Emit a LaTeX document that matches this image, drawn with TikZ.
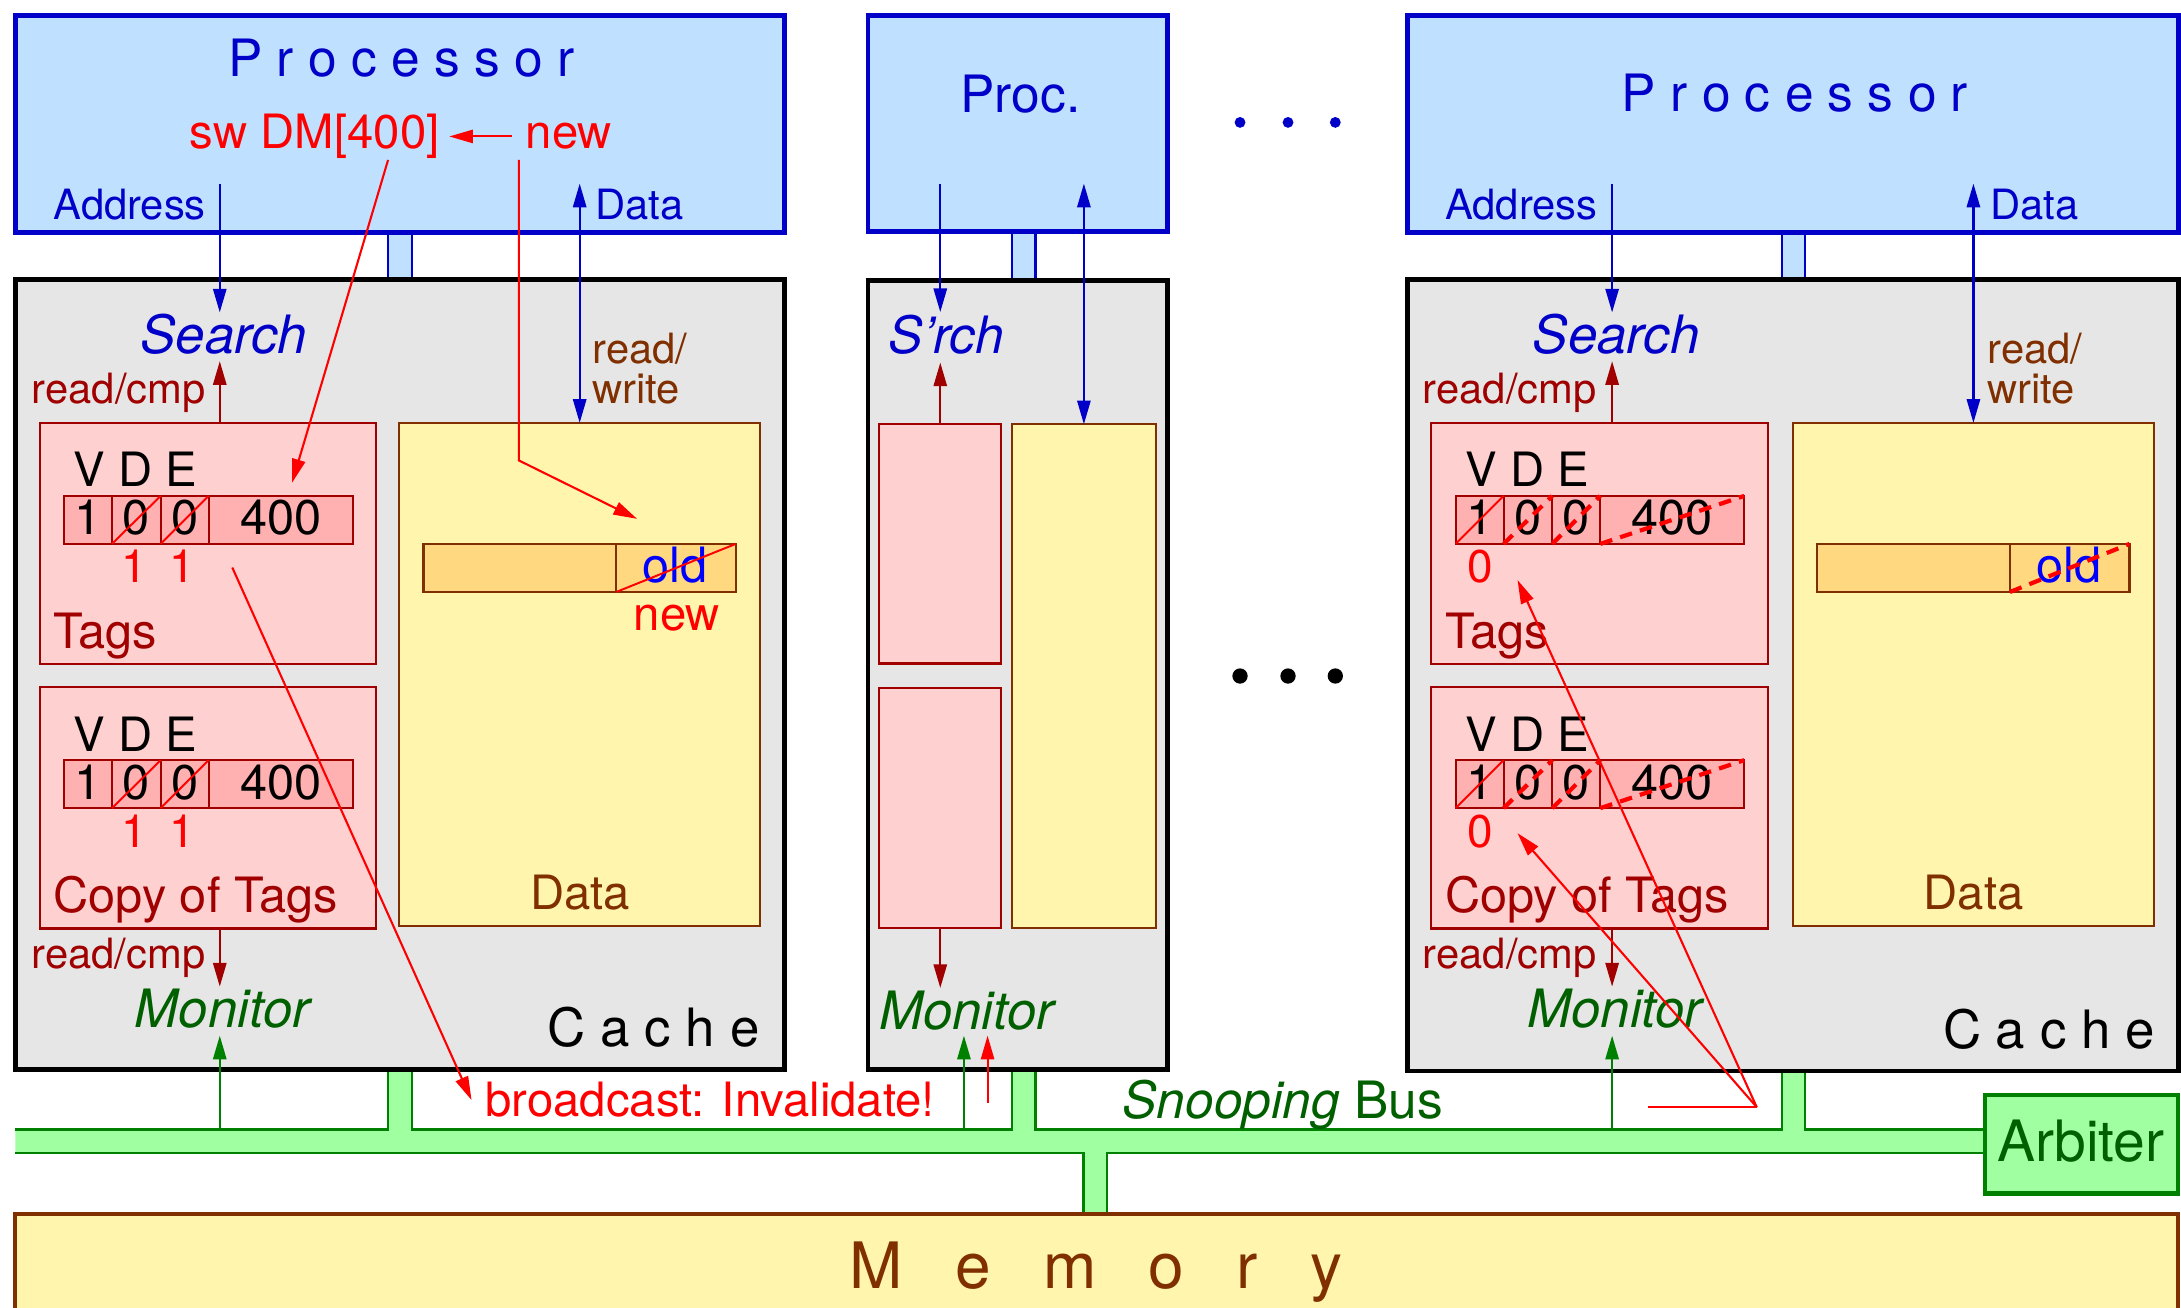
\documentclass[tikz,border=0pt]{standalone}
\usepackage{fontspec}
\setmainfont{TeX Gyre Heros}
\usetikzlibrary{arrows.meta,calc,fit}
\definecolor{procfill}{HTML}{C0E0FF}
\definecolor{procblue}{HTML}{0000C8}
\definecolor{oldblue}{HTML}{0000FF}
\definecolor{cachefill}{HTML}{E6E6E6}
\definecolor{pinkfill}{HTML}{FFD0D0}
\definecolor{rowfill}{HTML}{FFB0B0}
\definecolor{darkred}{HTML}{A00000}
\definecolor{yellowfill}{HTML}{FFF5AD}
\definecolor{linefill}{HTML}{FFD880}
\definecolor{brownc}{HTML}{803000}
\definecolor{busfill}{HTML}{A0FFA0}
\definecolor{busline}{HTML}{008000}
\definecolor{darkgreen}{HTML}{006000}
\definecolor{myred}{HTML}{FF0000}
\newcommand\fs[1]{\fontsize{#1}{#1}\selectfont}
\newcommand\tagbox[4]{%
  \node[tagsbox, fit={(#2,#3) (#2+242,#3+173.5)}] (#1) {};
  \node[font={\fs{34}}, anchor=base west] (#1-vde) at (#2+24.5,#3+46) {V D E};
  \node[cellbox, fit={(#2+17.5,#3+52.5) (#2+52,#3+87)}] (#1-c1) {};
  \node[cellbox, fit={(#2+52,#3+52.5) (#2+87,#3+87)}] (#1-c2) {};
  \node[cellbox, fit={(#2+87,#3+52.5) (#2+121.5,#3+87)}] (#1-c3) {};
  \node[cellbox, fit={(#2+121.5,#3+52.5) (#2+225,#3+87)}] (#1-c4) {};
  \node[celltext] (#1-v1) at (#2+34.75,#3+80.6) {1};
  \node[celltext] (#1-v2) at (#2+69.5,#3+80.6) {0};
  \node[celltext] (#1-v3) at (#2+104.25,#3+80.6) {0};
  \node[celltext] (#1-v4) at (#2+173.25,#3+80.6) {400};
  \node[font={\fs{35}}, text=darkred, anchor=base west] (#1-lbl) at (#2+10,#3+162) {#4};
}
\newcommand\databox[3]{%
  \node[databoxst, fit={(#2,#3) (#2+259.5,#3+362)}] (#1) {};
  \node[linebox, fit={(#2+17.5,#3+87) (#2+156,#3+121.6)}] (#1-l) {};
  \node[linebox, fit={(#2+156,#3+87) (#2+242,#3+121.6)}] (#1-r) {};
  \node[font={\fs{35}}, text=oldblue, anchor=base] (#1-old) at (#2+198.5,#3+115) {old};
  \node[font={\fs{34}}, text=brownc, anchor=base] (#1-lbl) at (#2+130,#3+350) {Data};
}
\begin{document}
\begin{tikzpicture}[x=1pt,y=-1pt,
  every node/.style={inner sep=0pt,outer sep=0pt},
  procbox/.style={draw=procblue,fill=procfill,line width=3.4pt},
  cachebox/.style={draw=black,fill=cachefill,line width=3.5pt},
  tagsbox/.style={draw=darkred,fill=pinkfill,line width=1.6pt},
  cellbox/.style={draw=darkred,fill=rowfill,line width=1.4pt},
  databoxst/.style={draw=brownc,fill=yellowfill,line width=1.6pt},
  linebox/.style={draw=brownc,fill=linefill,line width=1.6pt},
  celltext/.style={font={\fs{35}},anchor=base},
  tip/.style={-{Triangle[length=17pt,width=9.5pt]}},
  bluearr/.style={draw=procblue,line width=1.6pt,tip},
  bluedbl/.style={draw=procblue,line width=1.6pt,{Triangle[length=17pt,width=9.5pt]}-{Triangle[length=17pt,width=9.5pt]}},
  drkarr/.style={draw=darkred,line width=1.6pt,tip},
  greenarr/.style={draw=busline,line width=1.6pt,tip},
  redarr/.style={draw=myred,line width=1.5pt,tip},
  strike/.style={draw=myred,line width=1.4pt},
  dstrike/.style={draw=myred,line width=3pt,dash pattern=on 9pt off 6pt},
  lbl/.style={anchor=base west},
]
\useasboundingbox (0,0) rectangle (1568,940);
\clip (0,0) rectangle (1568,940);
\fill[white] (0,0) rectangle (1568,940);

% ---------- bus fill (under boxes) ----------
\path[fill=busfill] (11,812) rectangle (1427,829)
  (279,765) rectangle (296,812)
  (727.5,765) rectangle (744.5,812)
  (1281,765) rectangle (1297.5,812)
  (779,829) rectangle (796,875);
\draw[busline,line width=1.6pt] (11,812) -- (279,812) -- (279,769)
  (296,769) -- (296,812) -- (727.5,812) -- (727.5,769)
  (744.5,769) -- (744.5,812) -- (1281,812) -- (1281,770)
  (1297.5,770) -- (1297.5,812) -- (1427,812);
\draw[busline,line width=1.6pt] (11,829) -- (779,829) -- (779,873)
  (796,873) -- (796,829) -- (1427,829);

% ---------- processor-cache links ----------
\node[fill=procfill, fit={(279,165) (296,203)}] (l1) {};
\node[fill=procfill, fit={(727.5,165) (744.5,203)}] (l2) {};
\node[fill=procfill, fit={(1281,165) (1297.5,203)}] (l3) {};
\foreach \l in {l1,l2,l3}{
  \draw[procblue,line width=1.6pt] (\l.north west) -- (\l.south west) (\l.north east) -- (\l.south east);
}

% ---------- processors ----------
\node[procbox, fit={(11,11) (564,167)}] (p1) {};
\node[procbox, fit={(624,11) (839.5,166.5)}] (p2) {};
\node[procbox, fit={(1012,11) (1566,167)}] (p3) {};

\node[font={\fs{37}}, text=procblue, anchor=base] (p1t) at (288.5,55) {P r o c e s s o r};
\node[font={\fs{37}}, text=procblue, anchor=base west] (p2t) at (690.6,80.6) {Proc.};
\node[font={\fs{37}}, text=procblue, anchor=base] (p3t) at (1290.5,80) {P r o c e s s o r};

\node[font={\fs{34}}, text=myred, lbl] (dm) at (136.5,107) {sw DM[400]};
\node[font={\fs{34}}, text=myred, lbl] (nw) at (378,107) {new};
\draw[redarr] ($(nw.west)+(-10,0)$) -- ($(nw.west -| dm.east)+(7,0)$);

\node[font={\fs{30}}, text=procblue, lbl] (ad1) at (38.5,158) {Address};
\node[font={\fs{30}}, text=procblue, lbl] (da1) at (428,158) {Data};
\node[font={\fs{30}}, text=procblue, lbl] (ad3) at (1039,158) {Address};
\node[font={\fs{30}}, text=procblue, lbl] (da3) at (1431,158) {Data};

% ---------- caches ----------
\node[cachebox, fit={(11,201) (564,769)}] (c1) {};
\node[cachebox, fit={(624,201.5) (839.5,769)}] (c2) {};
\node[cachebox, fit={(1012,201) (1566,770)}] (c3) {};

% left cache
\tagbox{t1}{28.5}{304}{Tags}
\tagbox{t1b}{28.5}{494}{Copy of Tags}
\databox{d1}{287}{304}
\draw[strike] (t1-c2.south west) -- (t1-c2.north east);
\draw[strike] (t1-c3.south west) -- (t1-c3.north east);
\draw[strike] (t1b-c2.south west) -- (t1b-c2.north east);
\draw[strike] (t1b-c3.south west) -- (t1b-c3.north east);
\draw[strike] (d1-r.south west) -- (d1-r.north east);
\node[font={\fs{33}}, text=myred, anchor=base] (t1-n2) at (96.5,419) {1};
\node[font={\fs{33}}, text=myred, anchor=base] (t1-n3) at (131,419) {1};
\node[font={\fs{33}}, text=myred, anchor=base] (t1b-n2) at (96.5,609) {1};
\node[font={\fs{33}}, text=myred, anchor=base] (t1b-n3) at (131,609) {1};
\node[font={\fs{34}}, text=myred, lbl] (d1-new) at (455.6,453.6) {new};

\node[font={\fs{38}\itshape}, text=procblue, lbl] (s1) at (101,254) {Search};
\node[font={\fs{30}}, text=darkred, lbl] (rc1) at (23,290) {read/cmp};
\node[font={\fs{30}}, text=brownc, lbl] (rw1a) at (426,261) {read/};
\node[font={\fs{30}}, text=brownc, lbl] (rw1b) at (426,290) {write};
\node[font={\fs{30}}, text=darkred, lbl] (rc1b) at (22.7,696) {read/cmp};
\node[font={\fs{38}\itshape}, text=darkgreen, lbl] (m1) at (97,739) {Monitor};
\node[font={\fs{38}}, anchor=base east] (ca1) at (546,752.5) {C a c h e};

% middle cache
\node[tagsbox, fit={(632,305) (719.5,477)}] (t2) {};
\node[tagsbox, fit={(632,494.5) (719.5,667)}] (t2b) {};
\node[databoxst, fit={(727.5,305) (831,667)}] (d2) {};
\node[font={\fs{37}\itshape}, text=procblue, lbl] (s2) at (639,254) {S’rch};
\node[font={\fs{38}\itshape}, text=darkgreen, lbl] (m2) at (632,740) {Monitor};

% right cache
\tagbox{t3}{1029}{304}{Tags}
\tagbox{t3b}{1029}{494}{Copy of Tags}
\databox{d3}{1289}{304}
\foreach \t in {t3,t3b}{
  \draw[strike] (\t-c1.south west) -- (\t-c1.north east);
  \draw[dstrike] (\t-c2.south west) -- (\t-c2.north east);
  \draw[dstrike] (\t-c3.south west) -- (\t-c3.north east);
  \draw[dstrike] (\t-c4.south west) -- (\t-c4.north east);
}
\draw[dstrike] (d3-r.south west) -- (d3-r.north east);
\node[font={\fs{33}}, text=myred, anchor=base] (t3-n1) at (1064,419) {0};
\node[font={\fs{33}}, text=myred, anchor=base] (t3b-n1) at (1064,609) {0};

\node[font={\fs{38}\itshape}, text=procblue, lbl] (s3) at (1102,254) {Search};
\node[font={\fs{30}}, text=darkred, lbl] (rc3) at (1023,290) {read/cmp};
\node[font={\fs{30}}, text=brownc, lbl] (rw3a) at (1429,261) {read/};
\node[font={\fs{30}}, text=brownc, lbl] (rw3b) at (1429,290) {write};
\node[font={\fs{30}}, text=darkred, lbl] (rc3b) at (1023,696) {read/cmp};
\node[font={\fs{38}\itshape}, text=darkgreen, lbl] (m3) at (1098,739) {Monitor};
\node[font={\fs{38}}, anchor=base east] (ca3) at (1549,753.5) {C a c h e};

% ---------- arrows: processor/cache ----------
\coordinate (a1top) at (158,132);
\coordinate (a2top) at (676,132);
\coordinate (a3top) at (1159,132);
\coordinate (bus1) at (158,812);
\coordinate (bus2) at (693,812);
\coordinate (bus3) at (1159,812);
\coordinate (bc2) at (710,793);

\draw[bluearr] (a1top) -- ($(a1top |- s1.north)+(0,-1)$);
\draw[bluedbl] (d1.north |- a1top) -- (d1.north);
\draw[drkarr] (a1top |- t1.north) -- ($(a1top |- s1.south)+(0,5)$);
\draw[drkarr] (a1top |- t1b.south) -- ($(a1top |- m1.north)+(0,-2)$);
\draw[greenarr] (bus1) -- ($(bus1 |- m1.south)+(0,5)$);

\draw[bluearr] (a2top) -- ($(a2top |- s2.north)+(0,-2)$);
\draw[bluedbl] (d2.north |- a2top) -- (d2.north);
\draw[drkarr] (a2top |- t2.north) -- ($(a2top |- s2.south)+(0,6)$);
\draw[drkarr] (a2top |- t2b.south) -- ($(a2top |- m2.north)+(0,-2)$);
\draw[greenarr] (bus2) -- ($(bus2 |- m2.south)+(0,4)$);
\draw[redarr] (bc2) -- ($(bc2 |- m2.south)+(0,4)$);

\draw[bluearr] (a3top) -- ($(a3top |- s3.north)+(0,-1)$);
\draw[bluedbl] (d3.north |- a3top) -- (d3.north);
\draw[drkarr] (a3top |- t3.north) -- ($(a3top |- s3.south)+(0,5)$);
\draw[drkarr] (a3top |- t3b.south) -- ($(a3top |- m3.north)+(0,-2)$);
\draw[greenarr] (bus3) -- ($(bus3 |- m3.south)+(0,5)$);

% ---------- dots ----------
\foreach \x [count=\i] in {891.5,926,960}{
  \node[circle, fill=procblue, minimum size=7.8pt] (dt\i) at (\x,88) {};
  \node[circle, fill=black, minimum size=11pt] (db\i) at (\x,486) {};
}

% ---------- memory, arbiter, bus label ----------
\node[draw=brownc, fill=yellowfill, line width=2.8pt, fit={(11,873) (1566,965)}] (mem) {};
\node[font={\fs{46}}, text=brownc, anchor=base] (memt) at (788,926)
  {M\hspace{37.6pt}e\hspace{37.6pt}m\hspace{37.6pt}o\hspace{37.6pt}r\hspace{37.6pt}y};
\node[draw=busline, fill=busfill, line width=3pt, fit={(1427,787) (1566,858)}] (arb) {};
\node[font={\fs{41}}, text=darkgreen, lbl] (arbt) at (1436,835) {Arbiter};
\node[font={\fs{37}}, text=darkgreen, lbl] (sb) at (807,804) {\itshape Snooping\/ \upshape Bus};
\node[font={\fs{34}}, text=myred, lbl] (bc) at (349,803) {broadcast: Invalidate!};

% ---------- red explanatory arrows ----------
\coordinate (dmfoot) at (279,115);
\coordinate (t1tip) at (210,347);
\coordinate (nwfoot) at (373,115);
\coordinate (nwbend) at (373,331);
\coordinate (oldtip) at (458,373);
\coordinate (onesrc) at (167,408);
\coordinate (fan) at (1263,796);
\coordinate (fanstart) at (1185,796);
\coordinate (tip3a) at (1091,417);
\coordinate (tip3b) at (1091,599);
\draw[redarr] (dmfoot) -- (t1tip);
\draw[redarr] (nwfoot) -- (nwbend) -- (oldtip);
\draw[redarr] (onesrc) -- ($(bc.west)+(-10,0)$);
\draw[myred,line width=1.5pt] (fanstart) -- (fan);
\draw[redarr] (fan) -- (tip3a);
\draw[redarr] (fan) -- (tip3b);
\end{tikzpicture}
\end{document}
